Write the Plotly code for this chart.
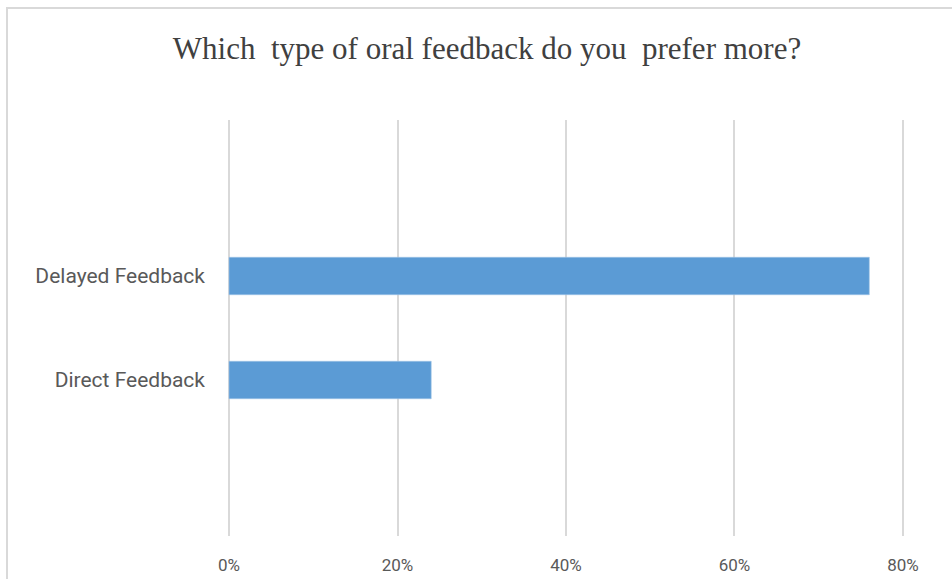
import plotly.graph_objects as go

categories = ["Direct Feedback", "Delayed Feedback"]
values = [0.24, 0.76]
tick_vals = [0, 0.2, 0.4, 0.6, 0.8]
tick_text = ["0%", "20%", "40%", "60%", "80%"]
title_text = "Which  type of oral feedback do you  prefer more?"

fig = go.Figure()
fig.add_trace(go.Bar(
    y=[0, 1], x=values, orientation="h", width=0.36,
    marker=dict(color="#5b9bd5", line=dict(color="#9dc3e6", width=0.6)),
    hoverinfo="skip",
))

W, H = 952, 579
L, R, T, B = 228, 48, 120, 43
pw, ph = W - L - R, H - T - B

def px_x(p):
    return (p - L) / pw

def px_y(p):
    return (H - B - p) / ph

label_font = "Roboto, sans-serif"

fig.update_layout(
    width=W, height=H,
    margin=dict(l=L, r=R, t=T, b=B, pad=0),
    paper_bgcolor="white", plot_bgcolor="white",
    showlegend=False,
    title=dict(text=title_text, x=487 / W, xref="container", xanchor="center",
               y=1 - 48 / H, yref="container", yanchor="middle",
               font=dict(family="Liberation Serif", size=31, color="#404040")),
    xaxis=dict(range=[-0.0012, 0.8012], tickvals=tick_vals, ticktext=tick_text,
               showgrid=True, gridcolor="#d9d9d9", gridwidth=1.5,
               zeroline=False, showline=False, ticks="",
               ticklabelstandoff=17, automargin=False,
               tickfont=dict(family=label_font, size=17, color="#595959")),
    yaxis=dict(range=[-1.5, 2.5], tickvals=[0, 1], ticktext=categories,
               showgrid=False, zeroline=False, showline=False, ticks="",
               ticklabelstandoff=22, automargin=False,
               tickfont=dict(family=label_font, size=21, color="#595959")),
    shapes=[dict(type="rect", xref="paper", yref="paper",
                 x0=px_x(7), x1=px_x(1000), y0=px_y(8), y1=px_y(650),
                 line=dict(color="#d9d9d9", width=2), fillcolor="rgba(0,0,0,0)",
                 layer="below")],
)

fig.write_html("out.html")
